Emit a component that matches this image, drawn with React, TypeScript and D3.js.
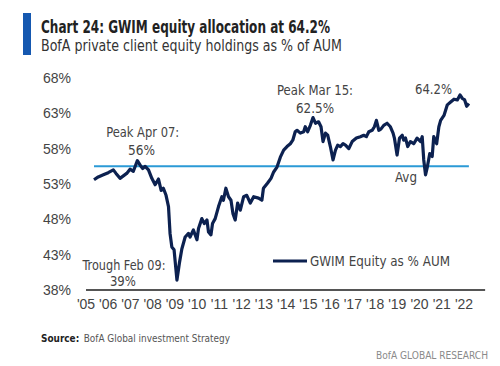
import React from "react"
import * as d3 from "d3"

// GWIM equity holdings as % of AUM (decimal year, %)
const years = [
  2005.36, 2005.55, 2005.78, 2006.0, 2006.23, 2006.35, 2006.53, 2006.83, 2006.98, 2007.13,
  2007.31, 2007.43, 2007.55, 2007.66, 2007.81, 2007.96, 2008.11, 2008.26, 2008.38, 2008.48,
  2008.6, 2008.71, 2008.78, 2008.86, 2008.96, 2009.09, 2009.2, 2009.31, 2009.46, 2009.61,
  2009.68, 2009.83, 2009.99, 2010.06, 2010.21, 2010.32, 2010.44, 2010.51, 2010.62, 2010.69,
  2010.81, 2010.96, 2011.11, 2011.18, 2011.29, 2011.41, 2011.52, 2011.61, 2011.71, 2011.82,
  2011.94, 2012.09, 2012.23, 2012.39, 2012.54, 2012.76, 2012.91, 2012.98, 2013.16, 2013.32,
  2013.44, 2013.59, 2013.74, 2013.89, 2014.04, 2014.19, 2014.3, 2014.41, 2014.49, 2014.64,
  2014.79, 2014.86, 2014.97, 2015.09, 2015.21, 2015.32, 2015.46, 2015.57, 2015.66, 2015.77,
  2015.87, 2015.99, 2016.11, 2016.22, 2016.32, 2016.44, 2016.56, 2016.67, 2016.82, 2016.97,
  2017.16, 2017.34, 2017.49, 2017.61, 2017.72, 2017.87, 2017.97, 2018.06, 2018.17, 2018.27,
  2018.39, 2018.54, 2018.69, 2018.81, 2018.87, 2018.99, 2019.1, 2019.22, 2019.29, 2019.37,
  2019.47, 2019.59, 2019.74, 2019.89, 2020.05, 2020.12, 2020.19, 2020.27, 2020.35, 2020.46,
  2020.57, 2020.64, 2020.77, 2020.87, 2020.95, 2021.1, 2021.25, 2021.4, 2021.55, 2021.7,
  2021.82, 2021.93, 2022.03, 2022.12, 2022.22,
]
const equityPct = [
  53.6, 54.0, 54.3, 54.6, 55.0, 54.5, 53.8, 54.5, 55.1, 54.8,
  56.3, 55.7, 55.2, 55.5, 55.0, 53.8, 52.9, 53.7, 52.1, 52.4,
  51.4, 49.8, 46.0, 44.1, 43.7, 39.4, 41.8, 43.8, 45.5, 46.0,
  45.5, 46.5, 45.1, 46.7, 48.1, 47.4, 47.9, 46.2, 45.8, 47.4,
  48.1, 49.8, 51.2, 50.7, 52.4, 51.2, 50.7, 48.8, 47.9, 50.3,
  49.3, 51.2, 51.4, 50.3, 51.2, 51.0, 50.7, 52.4, 53.1, 53.8,
  54.7, 55.4, 56.8, 57.8, 58.3, 58.7, 59.2, 60.4, 60.6, 60.2,
  60.4, 61.1, 60.4, 61.3, 62.4, 61.6, 61.8, 61.1, 59.0, 60.2,
  59.9, 58.3, 56.4, 57.8, 58.5, 58.3, 58.7, 58.5, 58.0, 59.0,
  59.5, 59.7, 59.9, 59.7, 60.4, 60.6, 61.1, 62.0, 60.6, 60.8,
  61.3, 61.6, 61.1, 60.2, 59.5, 57.1, 59.5, 59.9, 59.2, 59.5,
  58.3, 59.0, 58.7, 59.5, 59.0, 59.7, 56.4, 54.3, 55.4, 57.3,
  56.9, 59.7, 58.7, 61.1, 62.0, 62.7, 64.2, 64.6, 65.0, 64.9,
  65.6, 65.1, 64.9, 64.0, 64.4,
]
const avgPct = 55.5

const yTicks = [38, 43, 48, 53, 58, 63, 68]
const xTickYears = d3.range(2005, 2023)
const xTickLabels = xTickYears.map(yr => `'${String(yr).slice(2)}`)

// text labels: [text, year, pct, width]
const notes: [string, number, number, number][] = [
  ["Peak Apr 07:", 2007.55, 60.4, 73],
  ["56%", 2007.5, 57.8, 27],
  ["Peak Mar 15:", 2015.3, 66.3, 76],
  ["62.5%", 2015.3, 63.75, 38],
  ["64.2%", 2020.63, 66.45, 37],
  ["Trough Feb 09:", 2006.71, 41.55, 83],
  ["39%", 2006.66, 39.2, 26],
  ["Avg", 2019.39, 53.95, 22],
]

const FONT = "'Liberation Sans Narrow', 'DejaVu Sans Condensed', 'Liberation Sans', Arial, sans-serif"
const NAVY = "#0c2150"
const SKY = "#2b9ad6"
const GREY = "#444"

export default function App() {
  const width = 500
  const height = 366

  const x = d3.scaleLinear().domain([2005, 2022]).range([86, 464])
  const y = d3.scaleLinear().domain([38, 68]).range([290, 78])

  const pts = years.map((yr, i) => [yr, equityPct[i]] as [number, number])
  const line = d3.line<[number, number]>()
    .x(d => x(d[0]))
    .y(d => y(d[1]))

  const [x0, x1] = d3.extent(years) as [number, number]

  return (
    <svg
      width={width}
      height={height}
      style={{ position: "absolute", left: 0, top: 0, background: "#fff" }}
      fontFamily={FONT}
    >
      <rect x={23} y={13} width={8} height={42} fill="#1558b0" />
      <text x={41} y={33} fontSize={17} fontWeight={700} fill="#222"
        textLength={289} lengthAdjust="spacingAndGlyphs">
        Chart 24: GWIM equity allocation at 64.2%
      </text>
      <text x={41} y={51} fontSize={15} fill="#333"
        textLength={301} lengthAdjust="spacingAndGlyphs">
        BofA private client equity holdings as % of AUM
      </text>

      {/* y tick labels */}
      {yTicks.map(t => (
        <text key={t} x={71} y={y(t)} dy="0.35em" textAnchor="end"
          fontSize={14} fill={GREY} fontFamily="'Liberation Sans', Arial, sans-serif">
          {t}%
        </text>
      ))}

      {/* x axis */}
      <line x1={x(2005)} x2={x(2022.95)} y1={y(38)} y2={y(38)} stroke="#555" strokeWidth={2} />
      {xTickYears.map((yr, i) => (
        <text key={yr} x={x(yr)} y={309} textAnchor="middle" fontSize={14} fill={GREY}
          fontFamily="'Liberation Sans', Arial, sans-serif">
          {xTickLabels[i]}
        </text>
      ))}

      {/* average */}
      <line x1={x(x0)} x2={x(x1)} y1={y(avgPct)} y2={y(avgPct)} stroke={SKY} strokeWidth={2} />

      <path d={line(pts) ?? ""} fill="none" stroke={NAVY} strokeWidth={3.2} strokeLinejoin="round" />

      {notes.map(([txt, yr, p, w]) => (
        <text key={txt} x={x(yr)} y={y(p)} dy="0.35em" textAnchor="middle" fontSize={14}
          fill={GREY} textLength={w} lengthAdjust="spacingAndGlyphs">
          {txt}
        </text>
      ))}

      {/* legend */}
      <line x1={273} x2={307} y1={261} y2={261} stroke={NAVY} strokeWidth={3} />
      <text x={310} y={261} dy="0.35em" fontSize={14} fill={GREY}
        textLength={140} lengthAdjust="spacingAndGlyphs">
        GWIM Equity as % AUM
      </text>

      {/* footer */}
      <text x={41} y={342} fontSize={11} fill="#555"
        textLength={189} lengthAdjust="spacingAndGlyphs">
        <tspan fontWeight={700} fill="#222">Source:</tspan>
        <tspan dx={5}>BofA Global investment Strategy</tspan>
      </text>
      <text x={376} y={359} fontSize={10} fill="#8a8a8a"
        textLength={112} lengthAdjust="spacingAndGlyphs">
        BofA GLOBAL RESEARCH
      </text>
    </svg>
  )
}
